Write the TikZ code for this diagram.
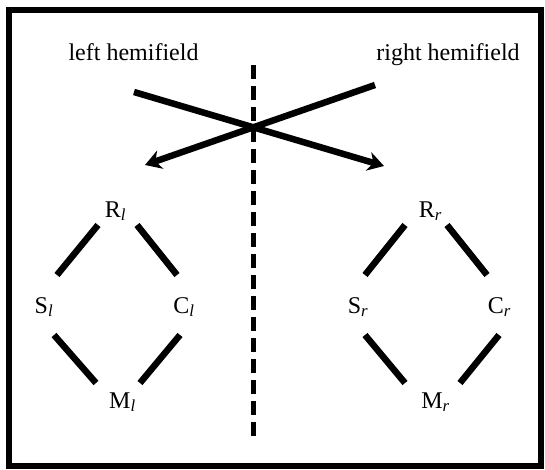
\documentclass[tikz,border=0pt]{standalone}
\usepackage{fontspec}
\setmainfont{Liberation Serif}
\usetikzlibrary{arrows.meta}
\begin{document}
\begin{tikzpicture}[x=1pt,y=-1pt,
  lbl/.style={font=\fontsize{24}{28}\selectfont, inner sep=0pt, anchor=base},
  seg/.style={line width=6.5pt},
  cross/.style={line width=6.5pt},
  tip/.style={-{Stealth[length=16pt,width=19pt,inset=5pt]}},
  mid/.style={line width=4.5pt, dash pattern=on 14pt off 7pt},
  frame/.style={line width=6pt}]
\useasboundingbox (0,0) rectangle (545,470);
\draw[frame] (9,10) rectangle (541,466);
% labels
\node[lbl] (lh) at (133.5,61) {left hemifield};
\node[lbl] (rh) at (448,61) {right hemifield};
% midline
\coordinate (mtop) at (253.5,65);
\coordinate (mbot) at (253.5,438);
\draw[mid] (mtop) -- (mbot);
% crossing pathways
\coordinate (la) at (134,92);
\coordinate (lb) at (384,166);
\coordinate (ra) at (375,85);
\coordinate (rb) at (145,165);
\draw[cross,tip] (la) -- (lb);
\draw[cross,tip] (ra) -- (rb);
% left diamond
\node[lbl] (Rl) at (115.5,217) {R\textsubscript{\textit{l}}};
\node[lbl] (Sl) at (44,313) {S\textsubscript{\textit{l}}};
\node[lbl] (Cl) at (184,313) {C\textsubscript{\textit{l}}};
\node[lbl] (Ml) at (122.5,408) {M\textsubscript{\textit{l}}};
\draw[seg] ([shift={(-17.5,8)}]Rl.base) -- ([shift={(13,-38)}]Sl.base);
\draw[seg] ([shift={(21.5,8)}]Rl.base) -- ([shift={(-7,-38)}]Cl.base);
\draw[seg] ([shift={(10,22)}]Sl.base) -- ([shift={(-26.5,-25)}]Ml.base);
\draw[seg] ([shift={(-4,22)}]Cl.base) -- ([shift={(17.5,-25)}]Ml.base);
% right diamond
\node[lbl] (Rr) at (430.5,217) {R\textsubscript{\textit{r}}};
\node[lbl] (Sr) at (358,313) {S\textsubscript{\textit{r}}};
\node[lbl] (Cr) at (499.5,313) {C\textsubscript{\textit{r}}};
\node[lbl] (Mr) at (435.5,408) {M\textsubscript{\textit{r}}};
\draw[seg] ([shift={(-25.5,8)}]Rr.base) -- ([shift={(7,-38)}]Sr.base);
\draw[seg] ([shift={(16.5,8)}]Rr.base) -- ([shift={(-12.5,-38)}]Cr.base);
\draw[seg] ([shift={(7,22)}]Sr.base) -- ([shift={(-30.5,-25)}]Mr.base);
\draw[seg] ([shift={(-0.5,22)}]Cr.base) -- ([shift={(24.5,-25)}]Mr.base);
\end{tikzpicture}
\end{document}
